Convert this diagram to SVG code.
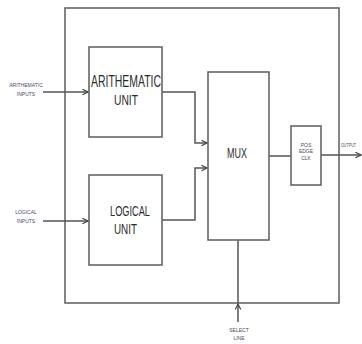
<svg xmlns="http://www.w3.org/2000/svg" width="362" height="344" viewBox="0 0 362 344">
<style>
.box{fill:#fff;stroke:#666;stroke-width:1.6}
.ln{fill:none;stroke:#555;stroke-width:1.5}
.t{font-family:"Liberation Sans",Arial,sans-serif;fill:#2a2a2a;text-anchor:middle}
.s{font-family:"Liberation Sans",Arial,sans-serif;fill:#4a4a66;text-anchor:middle;font-size:5px}
</style>
<defs>
<marker id="ah" viewBox="0 0 10 10" refX="9" refY="5" markerWidth="7" markerHeight="7" markerUnits="userSpaceOnUse" orient="auto">
<path d="M1,1 L9,5 L1,9" fill="none" stroke="#444" stroke-width="1.6"/>
</marker>
</defs>
<rect width="362" height="344" fill="#fff"/>
<g id="outer"><rect class="box" x="65" y="8" width="274" height="295"/></g>
<g id="connectors">
<path class="ln" d="M43,92 H88" marker-end="url(#ah)"/>
<path class="ln" d="M43,221 H88" marker-end="url(#ah)"/>
<path class="ln" d="M162,92 H195 V143 H207" marker-end="url(#ah)"/>
<path class="ln" d="M162,220 H195 V168 H207" marker-end="url(#ah)"/>
<path class="ln" d="M269,156 H291"/>
<path class="ln" d="M321,155 H361" marker-end="url(#ah)"/>
<path class="ln" d="M238,240 V303"/>
<path class="ln" d="M238,322 V304" marker-end="url(#ah)"/>
</g>
<g id="arith-inputs"><text class="s" x="26" y="87">ARITHEMATIC</text><text class="s" x="26" y="96">INPUTS</text></g>
<g id="logical-inputs"><text class="s" x="26" y="214">LOGICAL</text><text class="s" x="26" y="223">INPUTS</text></g>
<g id="arith-unit"><rect class="box" x="89" y="47" width="73" height="90"/>
<text class="t" x="126" y="87" font-size="16" textLength="70" lengthAdjust="spacingAndGlyphs">ARITHEMATIC</text>
<text class="t" x="126" y="105" font-size="15" textLength="24" lengthAdjust="spacingAndGlyphs">UNIT</text></g>
<g id="logical-unit"><rect class="box" x="89" y="175" width="73" height="90"/>
<text class="t" x="130" y="216" font-size="15" textLength="40" lengthAdjust="spacingAndGlyphs">LOGICAL</text>
<text class="t" x="125.5" y="234" font-size="15" textLength="23" lengthAdjust="spacingAndGlyphs">UNIT</text></g>
<g id="mux"><rect class="box" x="208" y="72" width="61" height="168"/>
<text class="t" x="237" y="158" font-size="15" textLength="20" lengthAdjust="spacingAndGlyphs">MUX</text></g>
<g id="pos-edge-clk"><rect class="box" x="291" y="126" width="30" height="59"/>
<text class="s" x="306" y="147">POS</text><text class="s" x="306" y="153">EDGE</text><text class="s" x="306" y="160">CLK</text></g>
<g id="output-label"><text class="s" x="341" y="147" style="text-anchor:start" textLength="15" lengthAdjust="spacingAndGlyphs">OUTPUT</text></g>
<g id="select-label"><text class="s" x="239" y="332">SELECT</text><text class="s" x="239" y="340">LINE</text></g>
</svg>
